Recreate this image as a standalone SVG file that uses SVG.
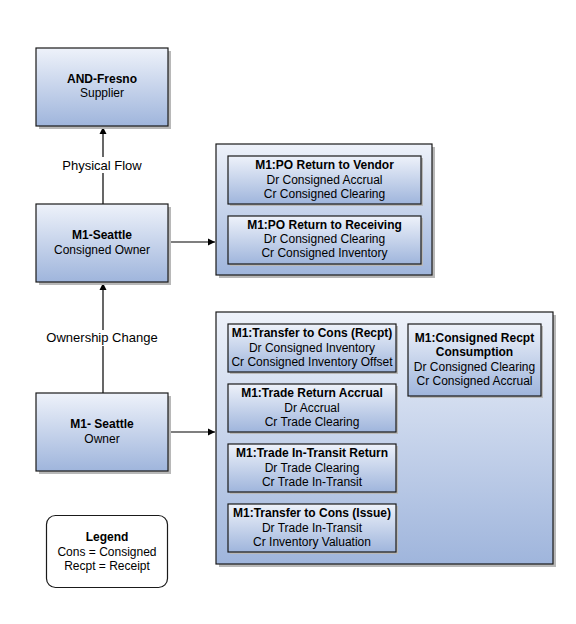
<svg xmlns="http://www.w3.org/2000/svg" width="576" height="624" viewBox="0 0 576 624">
<defs>
<linearGradient id="g" x1="0" y1="0" x2="0" y2="1">
<stop offset="0" stop-color="#eef2fa"/>
<stop offset="1" stop-color="#9fb5dc"/>
</linearGradient>
<marker id="ah" markerWidth="8" markerHeight="8" refX="7" refY="4" orient="auto" markerUnits="userSpaceOnUse">
<path d="M0,0.5 L7,4 L0,7.5 Z" fill="#000"/>
</marker>
<style>
.box{fill:url(#g);stroke:#1a1a1a;stroke-width:1.2}
.sh{fill:#b8b8b8}
.t{font-family:"Liberation Sans",Arial,sans-serif;font-size:12px;fill:#000;text-anchor:middle}
.b{font-weight:bold}
.lbl{font-family:"Liberation Sans",Arial,sans-serif;font-size:13px;fill:#000;text-anchor:middle}
.c{stroke:#000;stroke-width:1.2;fill:none}
</style>
</defs>
<rect width="576" height="624" fill="#fff"/>

<g id="connectors">
<line class="c" x1="103" y1="204" x2="103" y2="127" marker-end="url(#ah)"/>
<line class="c" x1="103" y1="393" x2="103" y2="283" marker-end="url(#ah)"/>
<line class="c" x1="168" y1="242" x2="215" y2="242" marker-end="url(#ah)"/>
<line class="c" x1="168" y1="432" x2="215" y2="432" marker-end="url(#ah)"/>
<rect x="60" y="157" width="86" height="16" fill="#fff"/>
<text class="lbl" x="102" y="170">Physical Flow</text>
<rect x="44" y="330" width="116" height="16" fill="#fff"/>
<text class="lbl" x="102" y="342">Ownership Change</text>
</g>

<g id="and-fresno">
<rect class="sh" x="39" y="51" width="132" height="78"/>
<rect class="box" x="36" y="48" width="132" height="78"/>
<text class="t b" x="102" y="83">AND-Fresno</text>
<text class="t" x="102" y="97">Supplier</text>
</g>

<g id="m1-seattle-consigned">
<rect class="sh" x="39" y="207" width="132" height="78"/>
<rect class="box" x="36" y="204" width="132" height="78"/>
<text class="t b" x="102" y="239">M1-Seattle</text>
<text class="t" x="102" y="254">Consigned Owner</text>
</g>

<g id="m1-seattle-owner">
<rect class="sh" x="39" y="396" width="132" height="78"/>
<rect class="box" x="36" y="393" width="132" height="78"/>
<text class="t b" x="102" y="428">M1- Seattle</text>
<text class="t" x="102" y="443">Owner</text>
</g>

<g id="legend">
<rect x="46.5" y="515.5" width="121" height="72" rx="9" ry="9" fill="#fff" stroke="#1a1a1a" stroke-width="1.2"/>
<text class="t b" x="107" y="541">Legend</text>
<text class="t" x="107" y="556">Cons = Consigned</text>
<text class="t" x="107" y="570">Recpt = Receipt</text>
</g>

<g id="panel-consigned">
<rect class="sh" x="219" y="147" width="216" height="131"/>
<rect class="box" x="216" y="144" width="216" height="131"/>
</g>

<g id="po-return-vendor">
<rect class="sh" x="230" y="158" width="193" height="48"/>
<rect class="box" x="228" y="156" width="193" height="48"/>
<text class="t b" x="324.5" y="169">M1:PO Return to Vendor</text>
<text class="t" x="324.5" y="184">Dr Consigned Accrual</text>
<text class="t" x="324.5" y="198">Cr Consigned Clearing</text>
</g>

<g id="po-return-receiving">
<rect class="sh" x="230" y="218" width="193" height="48"/>
<rect class="box" x="228" y="216" width="193" height="48"/>
<text class="t b" x="324.5" y="229">M1:PO Return to Receiving</text>
<text class="t" x="324.5" y="243">Dr Consigned Clearing</text>
<text class="t" x="324.5" y="257">Cr Consigned Inventory</text>
</g>

<g id="panel-owner">
<rect class="sh" x="219" y="315" width="337" height="252"/>
<rect class="box" x="216" y="312" width="337" height="252"/>
</g>

<g id="transfer-recpt">
<rect class="sh" x="230" y="326" width="168" height="48"/>
<rect class="box" x="228" y="324" width="168" height="48"/>
<text class="t b" x="312" y="337">M1:Transfer to Cons (Recpt)</text>
<text class="t" x="312" y="352">Dr Consigned Inventory</text>
<text class="t" x="312" y="366">Cr Consigned Inventory Offset</text>
</g>

<g id="consigned-recpt-consumption">
<rect class="sh" x="410" y="326" width="133" height="72"/>
<rect class="box" x="408" y="324" width="133" height="72"/>
<text class="t b" x="474.5" y="342">M1:Consigned Recpt</text>
<text class="t b" x="474.5" y="356">Consumption</text>
<text class="t" x="474.5" y="371">Dr Consigned Clearing</text>
<text class="t" x="474.5" y="385">Cr Consigned Accrual</text>
</g>

<g id="trade-return-accrual">
<rect class="sh" x="230" y="386" width="168" height="48"/>
<rect class="box" x="228" y="384" width="168" height="48"/>
<text class="t b" x="312" y="397">M1:Trade Return Accrual</text>
<text class="t" x="312" y="412">Dr Accrual</text>
<text class="t" x="312" y="426">Cr Trade Clearing</text>
</g>

<g id="trade-intransit-return">
<rect class="sh" x="230" y="446" width="168" height="48"/>
<rect class="box" x="228" y="444" width="168" height="48"/>
<text class="t b" x="312" y="457">M1:Trade In-Transit Return</text>
<text class="t" x="312" y="472">Dr Trade Clearing</text>
<text class="t" x="312" y="486">Cr Trade In-Transit</text>
</g>

<g id="transfer-issue">
<rect class="sh" x="230" y="506" width="168" height="48"/>
<rect class="box" x="228" y="504" width="168" height="48"/>
<text class="t b" x="312" y="517">M1:Transfer to Cons (Issue)</text>
<text class="t" x="312" y="532">Dr Trade In-Transit</text>
<text class="t" x="312" y="546">Cr Inventory Valuation</text>
</g>
</svg>
